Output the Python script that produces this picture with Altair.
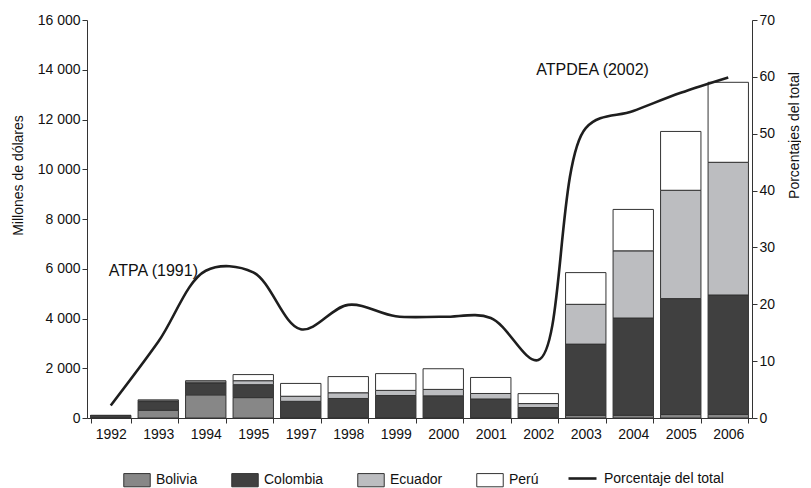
import altair as alt
import pandas as pd

years = ["1992", "1993", "1994", "1995", "1997", "1998", "1999",
         "2000", "2001", "2002", "2003", "2004", "2005", "2006"]
countries = ["Bolivia", "Colombia", "Ecuador", "Perú"]
bolivia = [15, 310, 930, 820, 10, 10, 10, 10, 10, 10, 110, 110, 140, 145]
colombia = [85, 350, 475, 520, 660, 775, 895, 880, 755, 410, 2860, 3910, 4660, 4800]
ecuador = [3, 30, 45, 160, 205, 230, 205, 260, 220, 160, 1600, 2700, 4355, 5335]
peru = [2, 40, 50, 245, 515, 650, 675, 830, 645, 400, 1275, 1665, 2365, 3215]
porcentaje = [2.2, 13.4, 25.9, 25.6, 15.6, 19.9, 17.9, 17.8, 17.6, 10.2, 51.0, 54.0, 57.2, 59.9]
line_name = "Porcentaje del total"
ann_years = ["1992", "2002"]
ann_values = [5900, 14000]
ann_labels = ["ATPA (1991)", "ATPDEA (2002)"]

colors = ["#878787", "#404040", "#bcbdc0", "#ffffff"]
FONT = "Liberation Sans"

rows = []
for series, vals in zip(countries, [bolivia, colombia, ecuador, peru]):
    for y, v in zip(years, vals):
        rows.append({"year": y, "country": series, "value": v, "ord": countries.index(series)})
bar_df = pd.DataFrame(rows)
line_df = pd.DataFrame({"year": years, "pct": porcentaje, "serie": line_name})
ann_df = pd.DataFrame({"year": ann_years, "yv": ann_values, "label": ann_labels})

xenc = alt.X("year:N", sort=years,
             scale=alt.Scale(paddingInner=0.15, paddingOuter=0.075),
             axis=alt.Axis(title=None, tickBand="extent", labelAngle=0, labelPadding=4))

bars = alt.Chart(bar_df).mark_bar(stroke="#333333", strokeWidth=1).encode(
    x=xenc,
    y=alt.Y("value:Q", stack="zero",
            scale=alt.Scale(domain=[0, 16000], nice=False),
            axis=alt.Axis(orient="left", values=list(range(0, 16001, 2000)),
                          title="Millones de dólares", titleX=-62, titleY=155,
                          labelExpr="replace(format(datum.value, ','), ',', ' ')")),
    fill=alt.Fill("country:N", scale=alt.Scale(domain=countries, range=colors),
                  legend=alt.Legend(title=None, orient="none", direction="horizontal",
                                    legendX=36, legendY=446, padding=0,
                                    symbolType="M-1,-0.5H1V0.5H-1Z", symbolSize=700,
                                    symbolStrokeColor="#333333", symbolStrokeWidth=1,
                                    symbolOpacity=1, labelOffset=5, columnPadding=31,
                                    labelFontSize=14, labelFont=FONT, labelColor="#111111")),
    order=alt.Order("ord:Q", sort="ascending"),
)

ann = alt.Chart(ann_df).mark_text(align="left", baseline="middle", fontSize=16,
                                  font=FONT, color="#111111", dx=-2).encode(
    x=alt.X("year:N", sort=years),
    y=alt.Y("yv:Q", scale=alt.Scale(domain=[0, 16000], nice=False), axis=None),
    text="label:N",
)

line = alt.Chart(line_df).mark_line(strokeWidth=2.6, interpolate="catmull-rom").encode(
    x=alt.X("year:N", sort=years),
    y=alt.Y("pct:Q", scale=alt.Scale(domain=[0, 70], nice=False),
            axis=alt.Axis(orient="right", values=list(range(0, 71, 10)),
                          title="Porcentajes del total", titleAngle=270,
                          titleX=49, titleY=115)),
    stroke=alt.Stroke("serie:N", scale=alt.Scale(domain=[line_name], range=["#1e1e1e"]),
                      legend=alt.Legend(title=None, orient="none", direction="horizontal",
                                        legendX=480, legendY=443, padding=0,
                                        symbolType="stroke", symbolSize=784,
                                        symbolStrokeWidth=2.6, labelOffset=6,
                                        labelFontSize=14, labelFont=FONT, labelColor="#111111")),
)

chart = alt.layer(bars, ann, line).resolve_scale(
    y="independent", fill="independent", stroke="independent"
).properties(
    width=665, height=398, padding={"left": 3, "top": 5, "right": 0, "bottom": 0}
).configure_view(stroke=None).configure_axis(
    domainColor="#333333", tickColor="#333333", tickSize=5, labelFont=FONT,
    labelFontSize=14, labelColor="#111111", titleFont=FONT, titleFontSize=14,
    titleFontWeight="normal", titleColor="#111111", grid=False
)

chart.save("out.html", embed_options={"renderer": "svg", "actions": False})
